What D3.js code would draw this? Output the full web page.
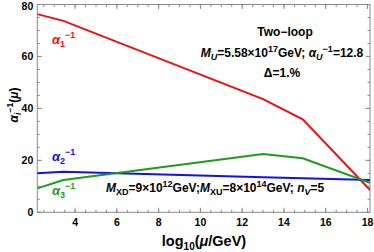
<!DOCTYPE html>
<html>
<head>
<meta charset="utf-8">
<script src="https://cdn.jsdelivr.net/npm/d3@7"></script>
<style>
  body { margin: 0; background: #fff; }
  text { font-family: "Liberation Sans", Arial, sans-serif; font-weight: bold; }
</style>
</head>
<body>
<div id="chart"></div>
<script>
// running of inverse gauge couplings
const logMu = [2.19, 3.44, 13.0, 14.9, 18.12];
const alpha1 = [76.3, 73.7, 43.6, 35.8, 8.6];
const alpha2 = [15.0, 15.6, 13.5, 13.1, 12.4];
const alpha3 = [9.2, 12.4, 22.4, 20.8, 11.4];
const xTicks = [4, 6, 8, 10, 12, 14, 16, 18];
const yTicks = [0, 20, 40, 60, 80];

const W = 374, H = 252;
const margin = { top: 4.5, right: 4, bottom: 39.7, left: 37.3 };
const width = W - margin.left - margin.right;
const height = H - margin.top - margin.bottom;

const svg = d3.select("#chart").append("svg")
  .attr("width", W).attr("height", H);
const g = svg.append("g")
  .attr("transform", `translate(${margin.left},${margin.top})`);

const x = d3.scaleLinear().domain([2.19, 18.12]).range([0, width]);
const y = d3.scaleLinear().domain([0, 80]).range([height, 0]);

// clip lines to the frame
svg.append("defs").append("clipPath").attr("id", "clip")
  .append("rect").attr("width", width).attr("height", height);

const frameColor = "#8a8a8a";
const xMinor = d3.range(2.5, 18.2, 0.5);
const yMinor = d3.range(0, 80.1, 5);

// ticks on all four sides, pointing inwards
function tickSet(vals, len, side) {
  g.append("g").selectAll("line").data(vals).enter().append("line")
    .attr("x1", d => side === "b" || side === "t" ? x(d) : (side === "l" ? 0 : width))
    .attr("x2", d => side === "b" || side === "t" ? x(d) : (side === "l" ? len : width - len))
    .attr("y1", d => side === "l" || side === "r" ? y(d) : (side === "b" ? height : 0))
    .attr("y2", d => side === "l" || side === "r" ? y(d) : (side === "b" ? height - len : len))
    .attr("stroke", frameColor).attr("stroke-width", 1);
}
tickSet(xMinor, 2.5, "b"); tickSet(xTicks, 4.5, "b");
tickSet(xMinor, 2.5, "t"); tickSet(xTicks, 4.5, "t");
tickSet(yMinor, 2.5, "l"); tickSet(yTicks, 4.5, "l");
tickSet(yMinor, 2.5, "r"); tickSet(yTicks, 4.5, "r");

g.append("rect").attr("width", width).attr("height", height)
  .attr("fill", "none").attr("stroke", frameColor).attr("stroke-width", 1);

// tick labels
g.append("g").selectAll("text").data(xTicks).enter().append("text")
  .attr("x", d => x(d)).attr("y", height + 14)
  .attr("text-anchor", "middle").attr("font-size", 10.5)
  .text(d => d);
g.append("g").selectAll("text").data(yTicks).enter().append("text")
  .attr("x", -4).attr("y", d => Math.max(y(d) + 3.8, 5))
  .attr("text-anchor", "end").attr("font-size", 10.5)
  .text(d => d);

// curves
const line = d3.line().x((d, i) => x(logMu[i])).y(d => y(d));
const series = [
  { vals: alpha1, color: "#f01010" },
  { vals: alpha2, color: "#1010f0" },
  { vals: alpha3, color: "#1c9c1c" }
];
g.append("g").attr("clip-path", "url(#clip)").selectAll("path").data(series).enter()
  .append("path")
  .attr("d", d => line(d.vals))
  .attr("fill", "none").attr("stroke", d => d.color).attr("stroke-width", 2);

// labels for the curves
function alphaLabel(px, py, idx, color) {
  const t = svg.append("text").attr("x", px).attr("y", py)
    .attr("fill", color).attr("font-size", 13);
  t.append("tspan").attr("font-style", "italic").text("α");
  t.append("tspan").attr("font-size", 9).attr("dy", 3).text(idx);
  t.append("tspan").attr("font-size", 9).attr("dy", -9).text("−1");
}
alphaLabel(52, 44, "1", "#f01010");
alphaLabel(52, 161, "2", "#1010f0");
alphaLabel(52, 195, "3", "#1c9c1c");

// info block
svg.append("text").attr("x", 285).attr("y", 36).attr("text-anchor", "middle")
  .attr("font-size", 12).text("Two−loop");

const mu = svg.append("text").attr("x", 282).attr("y", 57).attr("text-anchor", "middle")
  .attr("font-size", 12);
mu.append("tspan").attr("font-style", "italic").text("M");
mu.append("tspan").attr("font-style", "italic").attr("font-size", 9).attr("dy", 3).text("U");
mu.append("tspan").attr("dy", -3).text("=5.58×10");
mu.append("tspan").attr("font-size", 9).attr("dy", -5).text("17");
mu.append("tspan").attr("dy", 5).text("GeV; ");
mu.append("tspan").attr("font-style", "italic").text("α");
mu.append("tspan").attr("font-style", "italic").attr("font-size", 9).attr("dy", 3).text("U");
mu.append("tspan").attr("font-size", 9).attr("dy", -8).text("−1");
mu.append("tspan").attr("dy", 5).text("=12.8");

svg.append("text").attr("x", 282).attr("y", 77).attr("text-anchor", "middle")
  .attr("font-size", 12).text("Δ=1.%");

const mx = svg.append("text").attr("x", 106).attr("y", 192).attr("font-size", 12);
mx.append("tspan").attr("font-style", "italic").text("M");
mx.append("tspan").attr("font-size", 9).attr("dy", 3).text("XD");
mx.append("tspan").attr("dy", -3).text("=9×10");
mx.append("tspan").attr("font-size", 9).attr("dy", -5).text("12");
mx.append("tspan").attr("dy", 5).text("GeV;");
mx.append("tspan").attr("font-style", "italic").text("M");
mx.append("tspan").attr("font-size", 9).attr("dy", 3).text("XU");
mx.append("tspan").attr("dy", -3).text("=8×10");
mx.append("tspan").attr("font-size", 9).attr("dy", -5).text("14");
mx.append("tspan").attr("dy", 5).text("GeV; ");
mx.append("tspan").attr("font-style", "italic").text("n");
mx.append("tspan").attr("font-style", "italic").attr("font-size", 9).attr("dy", 3).text("V");
mx.append("tspan").attr("dy", -3).text("=5");

// axis titles
const xl = svg.append("text").attr("x", 204).attr("y", 246).attr("text-anchor", "middle")
  .attr("font-size", 14.5);
xl.append("tspan").text("log");
xl.append("tspan").attr("font-size", 10).attr("dy", 4).text("10");
xl.append("tspan").attr("dy", -4).text("(");
xl.append("tspan").attr("font-style", "italic").text("μ");
xl.append("tspan").text("/GeV)");

const yl = svg.append("text").attr("transform", "translate(18,105) rotate(-90)")
  .attr("text-anchor", "middle").attr("font-size", 12);
yl.append("tspan").attr("font-style", "italic").text("α");
yl.append("tspan").attr("font-style", "italic").attr("font-size", 8.5).attr("dy", 3).text("i");
yl.append("tspan").attr("font-size", 8.5).attr("dy", -8.5).text("−1");
yl.append("tspan").attr("dy", 5.5).text("(");
yl.append("tspan").attr("font-style", "italic").text("μ");
yl.append("tspan").text(")");
</script>
</body>
</html>
